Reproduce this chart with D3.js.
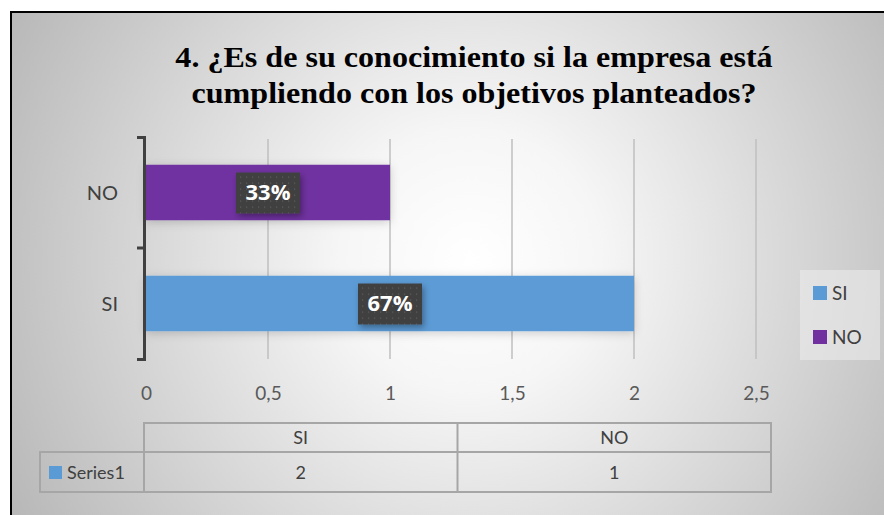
<!DOCTYPE html>
<html>
<head>
<meta charset="utf-8">
<script src="https://cdn.jsdelivr.net/npm/d3@7"></script>
<style>
  html, body { margin: 0; padding: 0; background: #fff; }
  svg { display: block; }
  .title { font-family: "Liberation Serif", serif; font-weight: bold; font-size: 30px; }
</style>
</head>
<body>
<svg id="chart" width="884" height="515"></svg>
<script>
// datos
var categories = ["SI", "NO"];
var values = [2, 1];
var seriesName = "Series1";
var xTicks = [0, 0.5, 1, 1.5, 2, 2.5];
var titleLines = ["4. ¿Es de su conocimiento si la empresa está", "cumpliendo con los objetivos planteados?"];
var barColors = ["#5b9bd5", "#7030a0"];

var svg = d3.select("#chart");
var W = 884, H = 515;
var sans = "Lato, 'Open Sans', sans-serif";

var defs = svg.append("defs");
var bg = defs.append("radialGradient").attr("id", "bg")
  .attr("gradientUnits", "userSpaceOnUse")
  .attr("cx", 470).attr("cy", 260).attr("r", 520);
bg.append("stop").attr("offset", "0").attr("stop-color", "#ffffff");
bg.append("stop").attr("offset", "0.25").attr("stop-color", "#f6f6f6");
bg.append("stop").attr("offset", "1").attr("stop-color", "#b8b8b8");

var dots = defs.append("pattern").attr("id", "dots")
  .attr("patternUnits", "userSpaceOnUse").attr("width", 6).attr("height", 6);
dots.append("rect").attr("width", 6).attr("height", 6).attr("fill", "#404040");
dots.append("rect").attr("x", 2).attr("y", 2).attr("width", 1.2).attr("height", 1.2).attr("fill", "#5e5e5e");

var sh = defs.append("filter").attr("id", "shadow").attr("x", "-20%").attr("y", "-40%").attr("width", "140%").attr("height", "180%");
sh.append("feDropShadow").attr("dx", 2).attr("dy", 3).attr("stdDeviation", 3).attr("flood-color", "#000").attr("flood-opacity", 0.35);
var sh2 = defs.append("filter").attr("id", "barshadow").attr("x", "-10%").attr("y", "-50%").attr("width", "120%").attr("height", "200%");
sh2.append("feDropShadow").attr("dx", 0).attr("dy", 2).attr("stdDeviation", 5).attr("flood-color", "#000").attr("flood-opacity", 0.18);

// fondo y borde
svg.append("rect").attr("x", 0).attr("y", 0).attr("width", W).attr("height", H).attr("fill", "#fff");
svg.append("rect").attr("x", 11).attr("y", 12).attr("width", W + 20).attr("height", H + 20)
  .attr("fill", "url(#bg)").attr("stroke", "#000").attr("stroke-width", 2);

// titulo (un poco ensanchado, como en el original)
svg.append("g").attr("transform", "translate(474,0) scale(1.07,1)")
  .selectAll("text").data(titleLines).enter().append("text")
  .attr("class", "title")
  .attr("x", 0).attr("y", function (d, i) { return 67 + i * 36; })
  .attr("text-anchor", "middle").attr("fill", "#000")
  .text(function (d) { return d; });

// escalas
var x = d3.scaleLinear().domain([0, 2.5]).range([146, 756]);
var y = d3.scaleBand().domain(categories.slice().reverse()).range([137, 359])
  .paddingInner(0.5).paddingOuter(0.25);
var total = d3.sum(values);

// rejilla
svg.append("g").selectAll("line").data(xTicks.slice(1)).enter().append("line")
  .attr("x1", function (d) { return x(d); }).attr("x2", function (d) { return x(d); })
  .attr("y1", 139).attr("y2", 359)
  .attr("stroke", "#bfbfbf").attr("stroke-width", 1.5);

// barras
svg.append("g").selectAll("rect").data(categories).enter().append("rect")
  .attr("x", x(0))
  .attr("y", function (d) { return y(d); })
  .attr("width", function (d, i) { return x(values[i]) - x(0); })
  .attr("height", y.bandwidth())
  .attr("fill", function (d, i) { return barColors[i]; })
  .attr("filter", "url(#barshadow)");

// eje de categorias
var yAxis = svg.append("g").attr("transform", "translate(144,0)")
  .call(d3.axisLeft(y).tickValues([]).tickSizeOuter(7));
yAxis.select(".domain").attr("stroke", "#404040").attr("stroke-width", 3);
var yMid = 137 + y.step();
yAxis.append("line")
  .attr("x1", -7).attr("x2", 0).attr("y1", yMid).attr("y2", yMid)
  .attr("stroke", "#404040").attr("stroke-width", 3);
svg.append("g").selectAll("text").data(categories).enter().append("text")
  .attr("x", 118)
  .attr("y", function (d) { return y(d) + y.bandwidth() / 2; })
  .attr("dy", "0.35em").attr("text-anchor", "end")
  .style("font-family", sans).style("font-size", "20px").attr("fill", "#404040")
  .text(function (d) { return d; });

// etiquetas de datos
var lab = svg.append("g").selectAll("g").data(categories).enter().append("g")
  .attr("transform", function (d, i) {
    return "translate(" + x(values[i] / 2) + "," + (y(d) + y.bandwidth() / 2) + ")";
  });
lab.append("rect").attr("x", -32).attr("y", -20).attr("width", 64).attr("height", 41)
  .attr("fill", "url(#dots)").attr("filter", "url(#shadow)");
lab.append("text").attr("text-anchor", "middle").attr("dy", "0.36em")
  .style("font-family", "'Open Sans', sans-serif").style("font-weight", "bold").style("font-size", "22px")
  .attr("fill", "#fff")
  .text(function (d, i) { return Math.round(values[i] / total * 100) + "%"; });

// eje x
var xAxis = svg.append("g").attr("transform", "translate(0,393)")
  .call(d3.axisBottom(x).tickValues(xTicks).tickSize(0)
    .tickFormat(function (d) { return String(d).replace(".", ","); }));
xAxis.select(".domain").remove();
xAxis.selectAll("text").attr("dy", "0.35em").attr("y", 0)
  .style("font-family", sans).style("font-size", "19px").attr("fill", "#595959");

// tabla de datos
var tx = d3.scaleBand().domain(categories).range([144, 771]);
var tbl = svg.append("g");
var gridC = "#a6a6a6";
tbl.append("rect").attr("x", 144).attr("y", 423).attr("width", 771 - 144).attr("height", 29)
  .attr("fill", "none").attr("stroke", gridC).attr("stroke-width", 2);
tbl.append("rect").attr("x", 40).attr("y", 452).attr("width", 771 - 40).attr("height", 40)
  .attr("fill", "none").attr("stroke", gridC).attr("stroke-width", 2);
tbl.append("line").attr("x1", 144).attr("x2", 144).attr("y1", 452).attr("y2", 492)
  .attr("stroke", gridC).attr("stroke-width", 2);
tbl.selectAll(".sep").data(categories.slice(1)).enter().append("line").attr("class", "sep")
  .attr("x1", function (d) { return tx(d); }).attr("x2", function (d) { return tx(d); })
  .attr("y1", 423).attr("y2", 492).attr("stroke", gridC).attr("stroke-width", 2);
tbl.selectAll(".hd").data(categories).enter().append("text").attr("class", "hd")
  .attr("x", function (d) { return tx(d) + tx.bandwidth() / 2; }).attr("y", 438)
  .attr("dy", "0.35em").attr("text-anchor", "middle")
  .style("font-family", sans).style("font-size", "18px").attr("fill", "#404040")
  .text(function (d) { return d; });
tbl.selectAll(".vl").data(categories).enter().append("text").attr("class", "vl")
  .attr("x", function (d) { return tx(d) + tx.bandwidth() / 2; }).attr("y", 473)
  .attr("dy", "0.35em").attr("text-anchor", "middle")
  .style("font-family", sans).style("font-size", "18px").attr("fill", "#404040")
  .text(function (d, i) { return values[i]; });
tbl.append("rect").attr("x", 49).attr("y", 466).attr("width", 13).attr("height", 13).attr("fill", barColors[0]);
tbl.append("text").attr("x", 67).attr("y", 473).attr("dy", "0.35em")
  .style("font-family", sans).style("font-size", "18px").attr("fill", "#404040")
  .text(seriesName);

// leyenda
var leg = svg.append("g");
leg.append("rect").attr("x", 800).attr("y", 270).attr("width", 80).attr("height", 90)
  .attr("fill", "#ebebeb").attr("opacity", 0.6);
var li = leg.selectAll("g").data(categories).enter().append("g")
  .attr("transform", function (d, i) { return "translate(813," + (293 + i * 44) + ")"; });
li.append("rect").attr("x", 0).attr("y", -7).attr("width", 14).attr("height", 14)
  .attr("fill", function (d, i) { return barColors[i]; });
li.append("text").attr("x", 19).attr("dy", "0.35em")
  .style("font-family", sans).style("font-size", "19px").attr("fill", "#404040")
  .text(function (d) { return d; });
</script>
</body>
</html>
